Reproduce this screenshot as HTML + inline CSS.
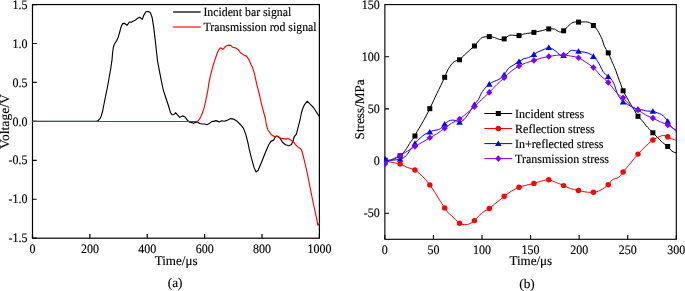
<!DOCTYPE html><html><head><meta charset="utf-8"><style>html,body{margin:0;padding:0;background:#fff;width:685px;height:291px;overflow:hidden}svg{display:block;will-change:transform}text{font-family:"Liberation Serif",serif;fill:#000;text-rendering:geometricPrecision}</style></head><body>
<svg width="685" height="291" viewBox="0 0 685 291">
<defs><clipPath id="cl"><rect x="31.5" y="3.5" width="289" height="235.5"/></clipPath><clipPath id="cr"><rect x="384" y="3.5" width="293.5" height="236.5"/></clipPath></defs>
<g stroke="#000" stroke-width="1.2" fill="none">
<rect x="32.5" y="4.55" width="286.9" height="233.65"/>
<path d="M32.5,238.2 V234 M89.88,238.2 V234 M147.26,238.2 V234 M204.64,238.2 V234 M262.02,238.2 V234 M319.4,238.2 V234 M32.5,4.55 H36.7 M32.5,43.49 H36.7 M32.5,82.43 H36.7 M32.5,121.38 H36.7 M32.5,160.32 H36.7 M32.5,199.26 H36.7 M32.5,238.2 H36.7"/>
</g>
<g clip-path="url(#cl)" fill="none" stroke-linejoin="round" stroke-linecap="round">
<polyline points="32.6,121.3 96.5,121.2 98.2,120.6 100,118.7 101.2,116 102.4,112.1 103.6,106 104.8,100 106,94 107.3,88 108.7,80 110.5,70 112,59.9 112.5,53.7 113.3,47.5 114.2,44.6 115.1,42.9 116.6,40.8 118.2,37.2 119.7,32.1 120.8,28 121.6,25.5 122.7,23.6 124.7,23.4 127,25.3 129.4,22 131.4,22.3 133.5,21 135.6,19.9 137.6,18.2 139.7,17.2 142.3,19.4 143.8,15.3 145.9,11.7 148.5,11.5 150.3,12.4 152.1,17.4 153.6,26.6 154.6,34.9 156,47 157.4,60 159.3,70.3 161.3,80.6 163.3,90 165.3,96.2 168.4,105.5 170.5,112.7 172,114.7 174.1,114.5 175.6,112.7 177.2,114.7 179.7,117.3 182.5,115.9 185,117 187.2,119.9 189.3,122.2 191.3,122.4 193.4,123.3 195.5,122.4 197.5,121.9 199.6,123.5 202.2,124 204.7,124 206.8,124.7 209.4,123.5 212,121.4 214,121.4 216.1,120.6 219.2,121.9 221.8,120.7 224.3,121.2 226.9,120.4 230.5,118.6 233.6,119.1 236.7,120.9 240.8,125 243.5,128.4 245.8,134.4 247.9,142.7 249.4,149.9 251.5,158.4 254.1,167.7 256.1,172 258.2,170.3 261.8,161.5 265.9,151.2 269,144.2 271.1,141.1 273.7,140.1 274.7,138 276.2,136 278.3,136.5 280.4,138.6 282.4,142.2 285.5,144.7 289.1,145.8 291.5,144.5 293.2,140.6 294.3,136.5 296.3,134.4 297.9,128.2 300,120 301.6,112.2 302.6,109 304.4,104.8 307.3,101.1 310.4,104.4 313.5,107.5 316.5,112.2 319.1,116.3" stroke="#000" stroke-width="1.15"/>
<polyline points="32.6,121.5 196.5,121.45 198.3,120.7 199.6,118.9 200.8,116.8 202,114.1 203.2,110.7 204.4,106.8 205.3,102.7 206.2,98.4 207.1,94.2 207.9,90 208.8,83.5 210,77.7 211.3,72.3 212.6,67.4 213.9,62.9 215.2,58.9 216.5,55.2 217.7,52 219,49.6 220.3,47.9 221.6,48.3 222.9,49.4 224.5,47.6 226.3,46 228,45.4 230.4,45.1 232.5,47.2 235.6,47.9 238.1,49.4 240.2,52.5 244.3,55.4 246.4,56.1 249,59.7 251,64.4 252.5,67.2 254.6,74.4 256.6,83.7 258.2,89.9 259.7,96 261.1,102.4 263.3,111 265.3,118 266.4,125 268,130 271.1,134.4 274.2,136.5 277.3,136.3 280.4,138 283.5,138.6 286,139.1 288.1,138.4 290.7,140.1 293.8,142.2 295.5,144.6 298.3,147.4 300.5,148.6 301.6,150 302.5,153 303.8,158.4 305.8,166.6 307.6,174.9 310.2,188 313.3,203.5 316.4,217.4 317.9,225.5 319.3,223.4" stroke="#f00" stroke-width="1.15"/>
</g>
<g font-size="12" stroke="#000" stroke-width="0.15">
<text transform="translate(32.5,253.0) scale(1,1.08)" text-anchor="middle">0</text>
<text transform="translate(89.88,253.0) scale(1,1.08)" text-anchor="middle">200</text>
<text transform="translate(147.26,253.0) scale(1,1.08)" text-anchor="middle">400</text>
<text transform="translate(204.64,253.0) scale(1,1.08)" text-anchor="middle">600</text>
<text transform="translate(262.02,253.0) scale(1,1.08)" text-anchor="middle">800</text>
<text transform="translate(319.4,253.0) scale(1,1.08)" text-anchor="middle">1000</text>
<text transform="translate(27.4,8.7) scale(1,1.08)" text-anchor="end">1.5</text>
<text transform="translate(27.4,47.64) scale(1,1.08)" text-anchor="end">1.0</text>
<text transform="translate(27.4,86.58) scale(1,1.08)" text-anchor="end">0.5</text>
<text transform="translate(27.4,125.53) scale(1,1.08)" text-anchor="end">0.0</text>
<text transform="translate(27.4,164.47) scale(1,1.08)" text-anchor="end">-0.5</text>
<text transform="translate(27.4,203.41) scale(1,1.08)" text-anchor="end">-1.0</text>
<text transform="translate(27.4,242.35) scale(1,1.08)" text-anchor="end">-1.5</text>
</g>
<g font-size="13.3" stroke="#000" stroke-width="0.15">
<text x="176.1" y="265" text-anchor="middle" textLength="42.8" lengthAdjust="spacingAndGlyphs">Time/μs</text>
<text text-anchor="middle" transform="translate(8.8,121.6) rotate(-90)" textLength="55" lengthAdjust="spacingAndGlyphs">Voltage/V</text>
<text x="175.1" y="287.3" text-anchor="middle">(a)</text>
<text x="530.8" y="265.1" text-anchor="middle" textLength="42.8" lengthAdjust="spacingAndGlyphs">Time/μs</text>
<text text-anchor="middle" transform="translate(363.6,109.4) rotate(-90)" textLength="60" lengthAdjust="spacingAndGlyphs">Stress/MPa</text>
<text x="527" y="288.2" text-anchor="middle">(b)</text>
</g>
<path d="M173.1,12.0 H200.7" stroke="#000" stroke-width="1.25"/>
<path d="M173.1,27 H200.7" stroke="#f00" stroke-width="1.15"/>
<g font-size="12" stroke="#000" stroke-width="0.15">
<text transform="translate(203.4,16) scale(1,1.05)" textLength="87.8" lengthAdjust="spacingAndGlyphs">Incident bar signal</text>
<text transform="translate(203.4,31) scale(1,1.05)" textLength="113.2" lengthAdjust="spacingAndGlyphs">Transmission rod signal</text>
</g>
<g stroke="#000" stroke-width="1.12" fill="none">
<rect x="384.87" y="4.6" width="291.43" height="234.7"/>
<path d="M384.87,239.3 V235.1 M433.44,239.3 V235.1 M482.01,239.3 V235.1 M530.59,239.3 V235.1 M579.16,239.3 V235.1 M627.73,239.3 V235.1 M676.3,239.3 V235.1 M384.87,4.54 H389.07 M384.87,56.73 H389.07 M384.87,108.91 H389.07 M384.87,161.1 H389.07 M384.87,213.28 H389.07"/>
</g>
<g clip-path="url(#cr)" fill="none" stroke-width="1.0" stroke-linejoin="round">
<path d="M385.2,160.3 C385.75,160.3 387.15,160.47 388.5,160.3 C389.85,160.13 391.37,160.05 393.3,159.3 C395.23,158.55 398.35,156.95 400.07,155.8 C401.79,154.65 402.53,153.6 403.6,152.4 C404.67,151.2 405.48,150.1 406.5,148.6 C407.52,147.1 408.29,145.5 409.7,143.4 C411.11,141.3 413.72,137.93 414.94,136 C416.16,134.07 415.91,133.77 417,131.8 C418.09,129.83 420.08,126.67 421.5,124.2 C422.92,121.73 424.12,119.58 425.5,117 C426.88,114.42 428.48,111.4 429.81,108.7 C431.14,106 432.33,103.32 433.5,100.8 C434.67,98.28 435.57,96.18 436.8,93.6 C438.03,91.02 439.59,88.02 440.9,85.3 C442.21,82.58 443.53,79.87 444.68,77.3 C445.83,74.73 446.58,72.17 447.8,69.9 C449.02,67.63 450.78,65.17 452,63.7 C453.22,62.23 453.84,61.75 455.1,61.1 C456.36,60.45 458.02,60.82 459.55,59.8 C461.08,58.78 462.64,56.58 464.3,55 C465.96,53.42 467.81,51.8 469.5,50.3 C471.19,48.8 473.25,47.15 474.42,46 C475.59,44.85 475.72,44.35 476.5,43.4 C477.28,42.45 478.07,41.32 479.1,40.3 C480.13,39.28 481,37.92 482.7,37.3 C484.4,36.68 487.31,36.57 489.29,36.6 C491.27,36.63 492.87,37.02 494.6,37.5 C496.34,37.98 498.11,39.27 499.7,39.5 C501.29,39.73 502.78,39.47 504.16,38.9 C505.54,38.33 506.84,36.73 508,36.1 C509.16,35.47 509.26,35.18 511.1,35.1 C512.94,35.02 516.96,35.77 519.03,35.6 C521.1,35.43 522.07,34.47 523.5,34.1 C524.93,33.73 525.87,33.68 527.6,33.4 C529.33,33.12 532.18,32.72 533.9,32.4 C535.62,32.08 536.72,31.75 537.9,31.5 C539.08,31.25 539.97,31.13 541,30.9 C542.03,30.67 542.81,30.43 544.1,30.1 C545.39,29.77 547.05,29.07 548.77,28.9 C550.49,28.73 552.6,28.6 554.4,29.1 C556.2,29.6 558.06,31.62 559.6,31.9 C561.14,32.18 562.27,31.7 563.64,30.8 C565.01,29.9 566.24,27.9 567.8,26.5 C569.36,25.1 571.22,23.13 573,22.4 C574.78,21.67 576.44,22.18 578.51,22.1 C580.58,22.02 583.57,21.82 585.4,21.9 C587.23,21.98 588.17,22 589.5,22.6 C590.83,23.2 592.01,24.17 593.38,25.5 C594.75,26.83 596.6,29.02 597.7,30.6 C598.8,32.18 599.22,33.45 600,35 C600.78,36.55 601.68,38.03 602.4,39.9 C603.12,41.77 603.32,44.03 604.3,46.2 C605.27,48.37 607.05,50.5 608.25,52.9 C609.45,55.3 610.59,58.5 611.5,60.6 C612.41,62.7 613,63.88 613.7,65.5 C614.4,67.12 615.02,68.5 615.7,70.3 C616.38,72.1 616.93,73.92 617.8,76.3 C618.67,78.68 620.01,82.18 620.9,84.6 C621.79,87.02 622.17,88.7 623.12,90.8 C624.07,92.9 625.32,94.93 626.6,97.2 C627.88,99.47 629.42,102.08 630.8,104.4 C632.18,106.72 633.7,109.12 634.9,111.1 C636.1,113.08 636.67,114.6 637.99,116.3 C639.31,118 641.48,119.77 642.8,121.3 C644.12,122.83 644.87,124.28 645.9,125.5 C646.93,126.72 647.84,127.38 649,128.6 C650.16,129.82 651.48,131.37 652.86,132.8 C654.24,134.23 655.71,135.6 657.3,137.2 C658.89,138.8 660.66,140.85 662.4,142.4 C664.14,143.95 666.26,145.13 667.73,146.5 C669.2,147.87 670.02,149.6 671.2,150.6 C672.38,151.6 673.9,152.15 674.8,152.5 C675.7,152.85 676.3,152.67 676.6,152.7" stroke="#000"/>
<path d="M385.2,160.1 C385.98,160.4 388.35,161.43 389.9,161.9 C391.45,162.37 392.81,162.55 394.5,162.9 C396.19,163.25 397.95,163.25 400.07,164 C402.19,164.75 404.72,166.4 407.2,167.4 C409.68,168.4 412.81,168.88 414.94,170 C417.07,171.12 418.29,172.57 420,174.1 C421.71,175.63 423.56,177.4 425.2,179.2 C426.83,181 428.09,182.53 429.81,184.9 C431.53,187.27 433.7,190.62 435.5,193.4 C437.3,196.18 439.07,199.18 440.6,201.6 C442.13,204.02 443.58,206.18 444.68,207.9 C445.78,209.62 446.1,210.63 447.2,211.9 C448.3,213.17 449.92,214.22 451.3,215.5 C452.68,216.78 454.12,218.3 455.5,219.6 C456.88,220.9 458.02,222.45 459.55,223.3 C461.08,224.15 462.97,224.63 464.7,224.7 C466.43,224.77 468.28,224.38 469.9,223.7 C471.52,223.02 472.87,221.97 474.42,220.6 C475.97,219.23 477.55,217.05 479.2,215.5 C480.85,213.95 482.62,212.47 484.3,211.3 C485.98,210.13 487.57,209.7 489.29,208.5 C491.01,207.3 492.85,205.52 494.6,204.1 C496.35,202.68 498.21,201.3 499.8,200 C501.39,198.7 502.21,197.78 504.16,196.3 C506.11,194.82 509.02,192.6 511.5,191.1 C513.98,189.6 516.63,188.27 519.03,187.3 C521.43,186.33 523.42,185.95 525.9,185.3 C528.38,184.65 531.32,184.1 533.9,183.4 C536.48,182.7 538.92,181.7 541.4,181.1 C543.88,180.5 546.37,179.58 548.77,179.8 C551.17,180.02 554.08,181.77 555.8,182.4 C557.52,183.03 557.79,183.07 559.1,183.6 C560.41,184.13 561.74,184.78 563.64,185.6 C565.54,186.42 568.02,187.68 570.5,188.5 C572.98,189.32 575.94,189.92 578.51,190.5 C581.08,191.08 583.42,191.7 585.9,192 C588.38,192.3 590.96,192.58 593.38,192.3 C595.8,192.02 597.92,191.55 600.4,190.3 C602.88,189.05 606.28,186.53 608.25,184.8 C610.22,183.07 610.78,181 612.2,179.9 C613.62,178.8 615.5,178.8 616.8,178.2 C618.1,177.6 618.95,177.33 620,176.3 C621.05,175.27 621.35,174.22 623.12,172 C624.89,169.78 628.12,165.98 630.6,163 C633.08,160.02 635.61,156.77 637.99,154.1 C640.37,151.43 642.42,149.35 644.9,147 C647.38,144.65 650.46,141.72 652.86,140 C655.26,138.28 657.53,137.47 659.3,136.7 C661.07,135.93 662.1,135.4 663.5,135.4 C664.9,135.4 666.36,136.13 667.73,136.7 C669.1,137.27 670.22,138.2 671.7,138.8 C673.18,139.4 675.78,140.05 676.6,140.3" stroke="#f00"/>
<path d="M385.2,159 C385.75,159.23 387.15,160.22 388.5,160.4 C389.85,160.58 391.37,160.28 393.3,160.1 C395.23,159.92 398.45,159.58 400.07,159.3 C401.69,159.02 401.94,159.07 403,158.4 C404.06,157.73 405.28,156.57 406.4,155.3 C407.52,154.03 408.28,152.78 409.7,150.8 C411.12,148.82 413.22,145.5 414.94,143.4 C416.66,141.3 418.29,139.75 420,138.2 C421.71,136.65 423.56,135.13 425.2,134.1 C426.83,133.07 428.43,132.6 429.81,132 C431.19,131.4 432.03,130.9 433.5,130.5 C434.97,130.1 437.18,130.13 438.6,129.6 C440.02,129.07 440.99,128.23 442,127.3 C443.01,126.37 443.58,125.03 444.68,124 C445.78,122.97 447.35,121.75 448.6,121.1 C449.85,120.45 451,120.18 452.2,120.1 C453.4,120.02 454.58,120.25 455.8,120.6 C457.02,120.95 458.18,122.37 459.55,122.2 C460.92,122.03 462.57,120.9 464,119.6 C465.43,118.3 466.8,116.3 468.1,114.4 C469.4,112.5 470.75,109.85 471.8,108.2 C472.85,106.55 473.3,105.95 474.42,104.5 C475.54,103.05 477.4,101.28 478.5,99.5 C479.6,97.72 480.02,95.57 481,93.8 C481.98,92.03 483.02,90.5 484.4,88.9 C485.78,87.3 487.74,85.43 489.29,84.2 C490.84,82.97 492.1,82.3 493.7,81.5 C495.3,80.7 497.16,80.52 498.9,79.4 C500.64,78.28 502.79,76.33 504.16,74.8 C505.53,73.27 506.21,71.43 507.1,70.2 C507.99,68.97 508.47,68.23 509.5,67.4 C510.53,66.57 511.71,66.18 513.3,65.2 C514.89,64.22 517.23,62.6 519.03,61.5 C520.83,60.4 522.49,59.25 524.1,58.6 C525.71,57.95 527.07,58.3 528.7,57.6 C530.33,56.9 532.35,55.35 533.9,54.4 C535.45,53.45 536.28,52.75 538,51.9 C539.72,51.05 542.41,50.03 544.2,49.3 C546,48.57 547.14,47.4 548.77,47.5 C550.4,47.6 552.53,49 554,49.9 C555.47,50.8 556.48,51.97 557.6,52.9 C558.72,53.83 559.69,55.05 560.7,55.5 C561.71,55.95 562.61,55.85 563.64,55.6 C564.67,55.35 565.76,54.78 566.9,54 C568.04,53.22 569.48,51.52 570.5,50.9 C571.52,50.28 571.66,50.23 573,50.3 C574.34,50.37 576.56,50.98 578.51,51.3 C580.46,51.62 582.8,51.77 584.7,52.2 C586.6,52.63 588.45,53.2 589.9,53.9 C591.35,54.6 592.18,55.28 593.38,56.4 C594.58,57.52 595.96,59.03 597.1,60.6 C598.24,62.17 599.15,63.87 600.2,65.8 C601.25,67.73 602.06,70.42 603.4,72.2 C604.74,73.98 606.78,75.12 608.25,76.5 C609.72,77.88 611.12,78.98 612.2,80.5 C613.28,82.02 613.9,83.55 614.7,85.6 C615.5,87.65 616.22,90.87 617,92.8 C617.78,94.73 618.38,95.68 619.4,97.2 C620.42,98.72 621.74,100.7 623.12,101.9 C624.5,103.1 626.09,103.47 627.7,104.4 C629.31,105.33 631.08,106.73 632.8,107.5 C634.51,108.27 636.27,108.57 637.99,109 C639.71,109.43 641.55,109.75 643.1,110.1 C644.65,110.45 645.67,110.9 647.3,111.1 C648.93,111.3 651.14,111 652.86,111.3 C654.58,111.6 656.13,112.33 657.6,112.9 C659.07,113.47 660.5,113.97 661.7,114.7 C662.9,115.43 663.79,116.2 664.8,117.3 C665.8,118.4 666.75,119.85 667.73,121.3 C668.71,122.75 669.69,124.7 670.7,126 C671.71,127.3 672.82,128.17 673.8,129.1 C674.78,130.03 676.13,131.18 676.6,131.6" stroke="#00f"/>
<path d="M385.2,163.7 C385.75,163.28 387.15,162.02 388.5,161.2 C389.85,160.38 391.37,159.72 393.3,158.8 C395.23,157.88 398.12,156.73 400.07,155.7 C402.02,154.67 402.52,154.13 405,152.6 C407.48,151.07 412.09,148.2 414.94,146.5 C417.79,144.8 419.62,143.85 422.1,142.4 C424.58,140.95 427.41,139.18 429.81,137.8 C432.21,136.42 434.02,135.68 436.5,134.1 C438.98,132.52 442.16,130.12 444.68,128.3 C447.2,126.48 449.12,124.75 451.6,123.2 C454.08,121.65 457.05,120.63 459.55,119 C462.05,117.37 464.12,115.43 466.6,113.4 C469.08,111.37 471.94,109.07 474.42,106.8 C476.9,104.53 479.02,102.2 481.5,99.8 C483.98,97.4 486.74,94.93 489.29,92.4 C491.84,89.87 494.32,87.03 496.8,84.6 C499.28,82.17 501.76,80.03 504.16,77.8 C506.56,75.57 508.72,73.17 511.2,71.2 C513.68,69.23 516.46,67.42 519.03,66 C521.6,64.58 524.12,63.63 526.6,62.7 C529.08,61.77 531.48,61.17 533.9,60.4 C536.32,59.63 538.62,58.75 541.1,58.1 C543.58,57.45 546.2,56.97 548.77,56.5 C551.34,56.03 554.02,55.55 556.5,55.3 C558.98,55.05 561.34,54.88 563.64,55 C565.94,55.12 567.82,55.55 570.3,56 C572.78,56.45 575.93,56.67 578.51,57.7 C581.09,58.73 583.32,60.57 585.8,62.2 C588.28,63.83 590.96,65.32 593.38,67.5 C595.8,69.68 597.82,72.82 600.3,75.3 C602.78,77.78 606.02,80.08 608.25,82.4 C610.48,84.72 611.99,87.18 613.7,89.2 C615.41,91.22 616.93,93.07 618.5,94.5 C620.07,95.93 621.07,95.97 623.12,97.8 C625.17,99.63 628.32,103.47 630.8,105.5 C633.28,107.53 635.59,108.47 637.99,110 C640.39,111.53 642.72,113.35 645.2,114.7 C647.68,116.05 650.33,116.9 652.86,118.1 C655.39,119.3 657.92,120.75 660.4,121.9 C662.88,123.05 665.68,123.98 667.73,125 C669.78,126.02 671.22,127.15 672.7,128 C674.18,128.85 675.95,129.75 676.6,130.1" stroke="#8000ff"/>
</g>
<g clip-path="url(#cr)">
<g fill="#000"><rect x="382.7" y="157.8" width="5" height="5"/><rect x="397.57" y="153.3" width="5" height="5"/><rect x="412.44" y="133.5" width="5" height="5"/><rect x="427.31" y="106.2" width="5" height="5"/><rect x="442.18" y="74.8" width="5" height="5"/><rect x="457.05" y="57.3" width="5" height="5"/><rect x="471.92" y="43.5" width="5" height="5"/><rect x="486.79" y="34.1" width="5" height="5"/><rect x="501.66" y="36.4" width="5" height="5"/><rect x="516.53" y="33.1" width="5" height="5"/><rect x="531.4" y="29.9" width="5" height="5"/><rect x="546.27" y="26.4" width="5" height="5"/><rect x="561.14" y="28.3" width="5" height="5"/><rect x="576.01" y="19.6" width="5" height="5"/><rect x="590.88" y="23" width="5" height="5"/><rect x="605.75" y="50.4" width="5" height="5"/><rect x="620.62" y="88.3" width="5" height="5"/><rect x="635.49" y="113.8" width="5" height="5"/><rect x="650.36" y="130.3" width="5" height="5"/><rect x="665.23" y="144" width="5" height="5"/></g>
<g fill="#f00"><circle cx="385.2" cy="160.1" r="2.7"/><circle cx="400.07" cy="164" r="2.7"/><circle cx="414.94" cy="170" r="2.7"/><circle cx="429.81" cy="184.9" r="2.7"/><circle cx="444.68" cy="207.9" r="2.7"/><circle cx="459.55" cy="223.3" r="2.7"/><circle cx="474.42" cy="220.6" r="2.7"/><circle cx="489.29" cy="208.5" r="2.7"/><circle cx="504.16" cy="196.3" r="2.7"/><circle cx="519.03" cy="187.3" r="2.7"/><circle cx="533.9" cy="183.4" r="2.7"/><circle cx="548.77" cy="179.8" r="2.7"/><circle cx="563.64" cy="185.6" r="2.7"/><circle cx="578.51" cy="190.5" r="2.7"/><circle cx="593.38" cy="192.3" r="2.7"/><circle cx="608.25" cy="184.8" r="2.7"/><circle cx="623.12" cy="172" r="2.7"/><circle cx="637.99" cy="154.1" r="2.7"/><circle cx="652.86" cy="140" r="2.7"/><circle cx="667.73" cy="136.7" r="2.7"/></g>
<g fill="#00f"><path d="M385.2,155.92 L388.5,161.52 L381.9,161.52Z"/><path d="M400.07,156.22 L403.37,161.82 L396.77,161.82Z"/><path d="M414.94,140.32 L418.24,145.92 L411.64,145.92Z"/><path d="M429.81,128.92 L433.11,134.52 L426.51,134.52Z"/><path d="M444.68,120.92 L447.98,126.52 L441.38,126.52Z"/><path d="M459.55,119.12 L462.85,124.72 L456.25,124.72Z"/><path d="M474.42,101.42 L477.72,107.02 L471.12,107.02Z"/><path d="M489.29,81.12 L492.59,86.72 L485.99,86.72Z"/><path d="M504.16,71.72 L507.46,77.32 L500.86,77.32Z"/><path d="M519.03,58.42 L522.33,64.02 L515.73,64.02Z"/><path d="M533.9,51.32 L537.2,56.92 L530.6,56.92Z"/><path d="M548.77,44.42 L552.07,50.02 L545.47,50.02Z"/><path d="M563.64,52.52 L566.94,58.12 L560.34,58.12Z"/><path d="M578.51,48.22 L581.81,53.82 L575.21,53.82Z"/><path d="M593.38,53.32 L596.68,58.92 L590.08,58.92Z"/><path d="M608.25,73.42 L611.55,79.02 L604.95,79.02Z"/><path d="M623.12,98.82 L626.42,104.42 L619.82,104.42Z"/><path d="M637.99,105.92 L641.29,111.52 L634.69,111.52Z"/><path d="M652.86,108.22 L656.16,113.82 L649.56,113.82Z"/><path d="M667.73,118.22 L671.03,123.82 L664.43,123.82Z"/></g>
<g fill="#8000ff"><path d="M385.2,160.4 L388.3,163.7 L385.2,167 L382.1,163.7Z"/><path d="M400.07,152.4 L403.17,155.7 L400.07,159 L396.97,155.7Z"/><path d="M414.94,143.2 L418.04,146.5 L414.94,149.8 L411.84,146.5Z"/><path d="M429.81,134.5 L432.91,137.8 L429.81,141.1 L426.71,137.8Z"/><path d="M444.68,125 L447.78,128.3 L444.68,131.6 L441.58,128.3Z"/><path d="M459.55,115.7 L462.65,119 L459.55,122.3 L456.45,119Z"/><path d="M474.42,103.5 L477.52,106.8 L474.42,110.1 L471.32,106.8Z"/><path d="M489.29,89.1 L492.39,92.4 L489.29,95.7 L486.19,92.4Z"/><path d="M504.16,74.5 L507.26,77.8 L504.16,81.1 L501.06,77.8Z"/><path d="M519.03,62.7 L522.13,66 L519.03,69.3 L515.93,66Z"/><path d="M533.9,57.1 L537,60.4 L533.9,63.7 L530.8,60.4Z"/><path d="M548.77,53.2 L551.87,56.5 L548.77,59.8 L545.67,56.5Z"/><path d="M563.64,51.7 L566.74,55 L563.64,58.3 L560.54,55Z"/><path d="M578.51,54.4 L581.61,57.7 L578.51,61 L575.41,57.7Z"/><path d="M593.38,64.2 L596.48,67.5 L593.38,70.8 L590.28,67.5Z"/><path d="M608.25,79.1 L611.35,82.4 L608.25,85.7 L605.15,82.4Z"/><path d="M623.12,94.5 L626.22,97.8 L623.12,101.1 L620.02,97.8Z"/><path d="M637.99,106.7 L641.09,110 L637.99,113.3 L634.89,110Z"/><path d="M652.86,114.8 L655.96,118.1 L652.86,121.4 L649.76,118.1Z"/><path d="M667.73,121.7 L670.83,125 L667.73,128.3 L664.63,125Z"/></g>
</g>
<g font-size="12" stroke="#000" stroke-width="0.15">
<text transform="translate(384.87,253.6) scale(1,1.08)" text-anchor="middle">0</text>
<text transform="translate(433.44,253.6) scale(1,1.08)" text-anchor="middle">50</text>
<text transform="translate(482.01,253.6) scale(1,1.08)" text-anchor="middle">100</text>
<text transform="translate(530.59,253.6) scale(1,1.08)" text-anchor="middle">150</text>
<text transform="translate(579.16,253.6) scale(1,1.08)" text-anchor="middle">200</text>
<text transform="translate(627.73,253.6) scale(1,1.08)" text-anchor="middle">250</text>
<text transform="translate(676.3,253.6) scale(1,1.08)" text-anchor="middle">300</text>
<text transform="translate(379.8,8.69) scale(1,1.08)" text-anchor="end">150</text>
<text transform="translate(379.8,60.88) scale(1,1.08)" text-anchor="end">100</text>
<text transform="translate(379.8,113.06) scale(1,1.08)" text-anchor="end">50</text>
<text transform="translate(379.8,165.25) scale(1,1.08)" text-anchor="end">0</text>
<text transform="translate(379.8,217.44) scale(1,1.08)" text-anchor="end">-50</text>
</g>
<path d="M484.3,113.5 H512.2" stroke="#000" stroke-width="1.0"/>
<g fill="#000"><rect x="495.8" y="111" width="5" height="5"/></g>
<text transform="translate(515.1,117.5) scale(1,1.05)" font-size="12" stroke="#000" stroke-width="0.15">Incident stress</text>
<path d="M484.3,128.5 H512.2" stroke="#f00" stroke-width="1.0"/>
<g fill="#f00"><circle cx="498.3" cy="128.5" r="2.7"/></g>
<text transform="translate(515.1,132.5) scale(1,1.05)" font-size="12" stroke="#000" stroke-width="0.15">Reflection stress</text>
<path d="M484.3,143.6 H512.2" stroke="#00f" stroke-width="1.0"/>
<g fill="#00f"><path d="M498.3,140.52 L501.6,146.12 L495,146.12Z"/></g>
<text transform="translate(515.1,147.6) scale(1,1.05)" font-size="12" stroke="#000" stroke-width="0.15">In+reflected stress</text>
<path d="M484.3,158.6 H512.2" stroke="#8000ff" stroke-width="1.0"/>
<g fill="#8000ff"><path d="M498.3,155.3 L501.4,158.6 L498.3,161.9 L495.2,158.6Z"/></g>
<text transform="translate(515.1,162.6) scale(1,1.05)" font-size="12" stroke="#000" stroke-width="0.15">Transmission stress</text>
</svg></body></html>
